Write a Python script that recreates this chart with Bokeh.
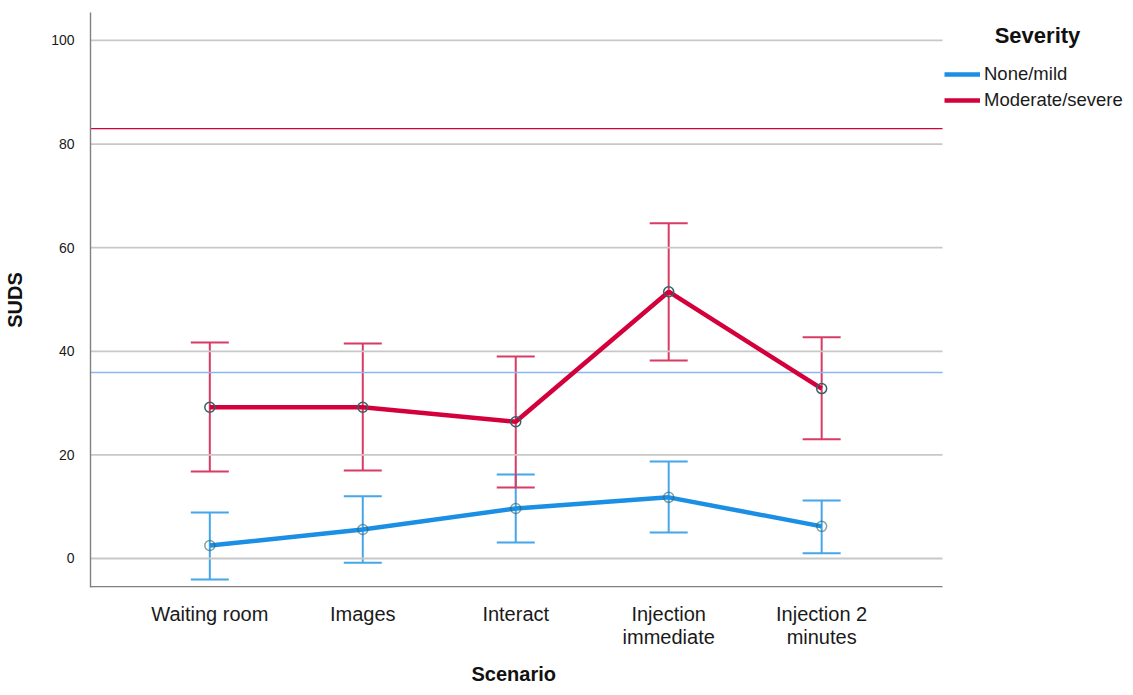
from bokeh.plotting import figure
from bokeh.models import Range1d, FixedTicker, Legend, LegendItem, Whisker, ColumnDataSource, TeeHead, Label, Title
from bokeh.embed import file_html
from bokeh.resources import INLINE

scenarios = ["Waiting room", "Images", "Interact", "Injection\nimmediate", "Injection 2\nminutes"]
mild_mean = [2.5, 5.6, 9.65, 11.8, 6.2]
mild_lower = [-4.05, -0.8, 3.1, 5.0, 1.0]
mild_upper = [8.9, 12.0, 16.2, 18.7, 11.2]
severe_mean = [29.2, 29.2, 26.4, 51.5, 32.8]
severe_lower = [16.8, 17.0, 13.7, 38.2, 23.0]
severe_upper = [41.7, 41.5, 39.0, 64.7, 42.7]
ref_severe = 83.0
ref_mild = 35.9
yticks = [0, 20, 40, 60, 80, 100]
series_names = ["None/mild", "Moderate/severe"]
legend_title = "Severity"
x_title = "Scenario"
y_title = "SUDS"

FONT = "Liberation Sans"
BLUE = "#1B8FE3"
BLUE_EB = "#45A6EA"
RED = "#D3003B"
RED_EB = "#D83B63"
MARK = "#2F6466"

xs = list(range(len(scenarios)))

W, H = 1133, 695
FL, FR, FT, FB = 90, 942, 12, 587
X0, X1 = -0.78, 4.79          # visible plot area (in category units)
Y0, Y1 = -5.6, 105.4
ux = (X1 - X0) / (FR - FL)    # data units per pixel
XEND = X0 + (W - FL) * ux     # frame extended to the right to host the legend

p = figure(width=W, height=H, output_backend="svg", toolbar_location=None,
           x_range=Range1d(X0, XEND), y_range=Range1d(Y0, Y1),
           min_border_left=FL, min_border_top=FT, min_border_bottom=H - FB, min_border_right=0)
p.outline_line_color = None
p.background_fill_color = "white"
p.border_fill_color = "white"
p.xgrid.visible = False
p.ygrid.visible = False

# horizontal grid lines limited to the plot area
p.segment(x0=[X0] * len(yticks), y0=yticks, x1=[X1] * len(yticks), y1=yticks,
          line_color="#c8c8c8", line_width=1.8)

p.yaxis.ticker = FixedTicker(ticks=yticks)
p.xaxis.ticker = FixedTicker(ticks=xs)
p.xaxis.major_label_overrides = {i: s for i, s in enumerate(scenarios)}
for ax in (p.xaxis, p.yaxis):
    ax.major_tick_line_color = None
    ax.minor_tick_line_color = None
    ax.axis_line_color = "#808080"
    ax.axis_line_width = 1.4
    ax.major_label_text_font = FONT
    ax.axis_label_text_font = FONT
    ax.axis_label_text_font_style = "bold"
    ax.axis_label_text_color = "#111111"
    ax.major_label_text_color = "#1a1a1a"
p.xaxis.axis_line_color = None
p.yaxis.major_label_text_font_size = "14px"
p.xaxis.major_label_text_font_size = "20px"
p.xaxis.major_label_text_line_height = 1.05
p.xaxis.major_label_standoff = 9
p.yaxis.major_label_standoff = 10
p.yaxis.axis_label = y_title
p.yaxis.axis_label_text_font_size = "20px"
p.yaxis.axis_label_standoff = 22

# x-axis title centred under the plot area
xt = Title(text=x_title, align="left", offset=(515 - FL) - 44, standoff=21,
           text_font=FONT, text_font_style="bold", text_font_size="20px", text_color="#111111")
p.add_layout(xt, "below")

# bottom axis line only under the plot area
uy = (Y1 - Y0) / (FB - FT)
p.segment(x0=[X0], y0=[Y0 + 0.7 * uy], x1=[X1], y1=[Y0 + 0.7 * uy], line_color="#808080", line_width=1.4)

# reference lines
p.segment(x0=[X0], y0=[ref_severe], x1=[X1], y1=[ref_severe], line_color=RED, line_width=1.3)
p.segment(x0=[X0], y0=[ref_mild], x1=[X1], y1=[ref_mild], line_color="#8DB6EE", line_width=1.5)

for mean, lo, hi, col, ecol in [(mild_mean, mild_lower, mild_upper, BLUE, BLUE_EB),
                                (severe_mean, severe_lower, severe_upper, RED, RED_EB)]:
    src = ColumnDataSource(dict(x=xs, m=mean, lo=lo, hi=hi))
    w = Whisker(source=src, base="x", lower="lo", upper="hi", dimension="height",
                line_color=ecol, line_width=2,
                upper_head=TeeHead(size=38, line_color=ecol, line_width=2),
                lower_head=TeeHead(size=38, line_color=ecol, line_width=2))
    p.add_layout(w)

r_mild = p.line(xs, mild_mean, line_color=BLUE, line_width=4.5)
r_sev = p.line(xs, severe_mean, line_color=RED, line_width=4.5)
p.scatter(xs, mild_mean, size=10, fill_color=None, line_color=MARK, line_width=1.5, line_alpha=0.6)
p.scatter(xs, severe_mean, size=10, fill_color=None, line_color=MARK, line_width=1.5)

FH = FB - FT
p.add_layout(Label(x=1037 - FL, y=FH - (35 - FT), x_units="screen", y_units="screen",
                   text=legend_title, text_font=FONT, text_font_style="bold", text_font_size="22px",
                   text_align="center", text_baseline="middle", text_color="#111111"))

legend = Legend(items=[LegendItem(label=series_names[0], renderers=[r_mild]),
                       LegendItem(label=series_names[1], renderers=[r_sev])],
                location=(946 - 4 - FL + 2, FB - 111))
legend.label_text_font = FONT
legend.label_text_font_size = "18.5px"
legend.label_text_color = "#1a1a1a"
legend.border_line_color = None
legend.background_fill_alpha = 0
legend.glyph_width = 36
legend.glyph_height = 20
legend.label_standoff = 4
legend.spacing = 4
legend.padding = 4
legend.margin = 0
p.add_layout(legend)

open("out.html", "w").write(file_html(p, INLINE))
